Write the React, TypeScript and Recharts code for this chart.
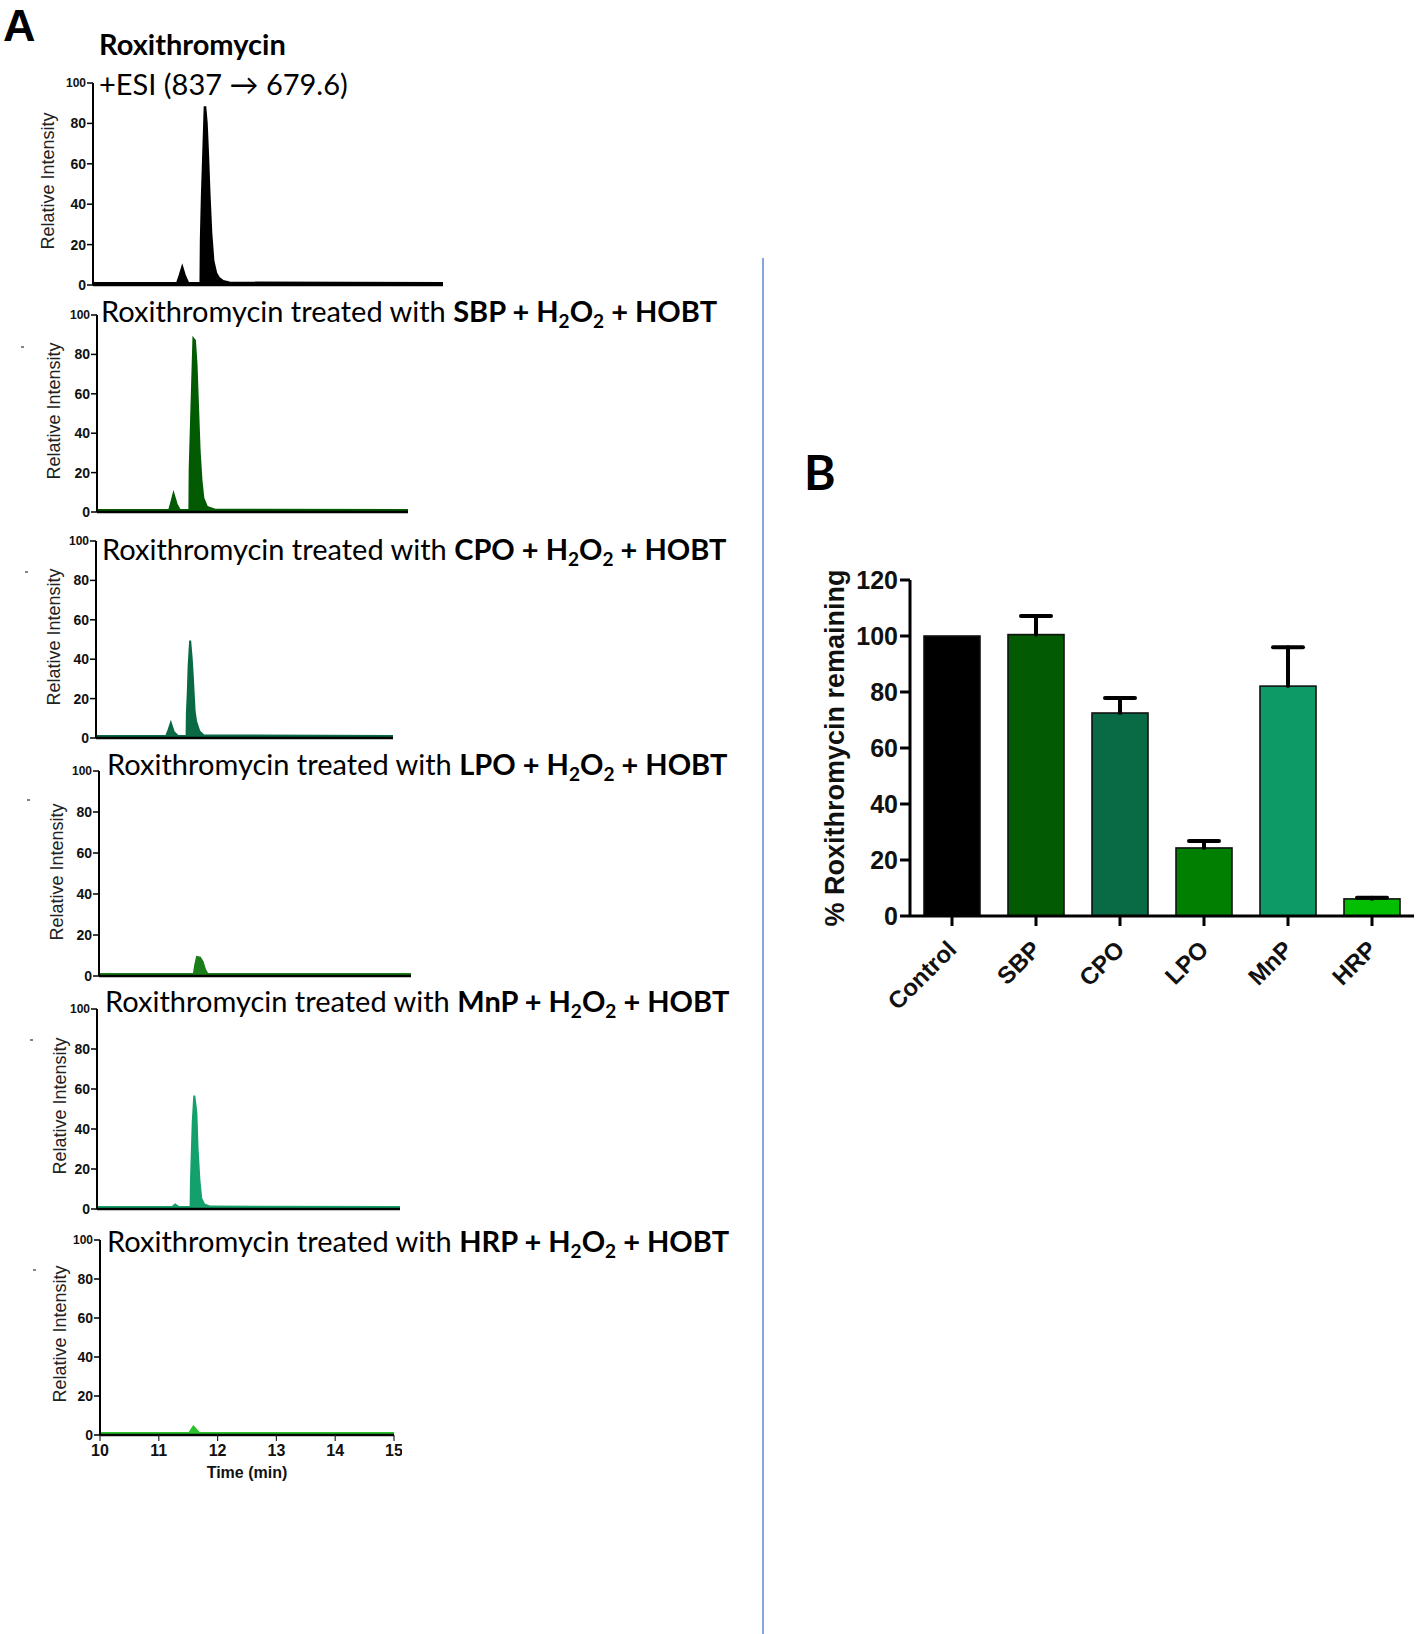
import React from 'react';
import { ComposedChart, Area, XAxis, YAxis, BarChart, Bar, Cell } from 'recharts';

// ---------- Panel A: chromatogram data ----------
const timeTicks = [10, 11, 12, 13, 14, 15];
const intensityTicks = [0, 20, 40, 60, 80, 100];

const controlTimes = [10, 11.2, 11.24, 11.275, 11.31, 11.36, 11.535, 11.54, 11.555, 11.575, 11.595, 11.605, 11.625, 11.645, 11.665, 11.69, 11.72, 11.76, 11.8, 11.86, 11.95, 15];
const controlIntensity = [1, 1, 5, 9, 5, 1, 1, 22, 44, 66, 88, 88, 80, 64, 45, 26, 12, 6, 3.5, 2, 1.2, 1];

const sbpTimes = [10, 11.16, 11.195, 11.23, 11.28, 11.33, 11.485, 11.49, 11.51, 11.53, 11.55, 11.575, 11.6, 11.625, 11.65, 11.68, 11.71, 11.77, 11.9, 15];
const sbpIntensity = [1, 1, 5, 9.3, 4, 1, 1, 22, 44, 66, 88, 87, 75, 53, 31, 16, 7, 2.5, 1.2, 1];

const cpoTimes = [10, 11.18, 11.22, 11.26, 11.31, 11.38, 11.525, 11.53, 11.545, 11.56, 11.585, 11.61, 11.63, 11.66, 11.685, 11.74, 11.81, 15];
const cpoIntensity = [1, 1, 4, 7.6, 3, 1, 1, 12.7, 23, 37, 49.5, 40.7, 31, 13.6, 8.5, 3.4, 1.4, 1];

const lpoTimes = [10, 11.52, 11.54, 11.57, 11.62, 11.66, 11.7, 11.74, 15];
const lpoIntensity = [1, 1, 5, 9.3, 9, 7, 3, 1, 1];

const mnpTimes = [10, 11.24, 11.29, 11.35, 11.545, 11.55, 11.565, 11.58, 11.605, 11.625, 11.64, 11.66, 11.69, 11.72, 11.77, 11.87, 15];
const mnpIntensity = [1, 1, 2.3, 1, 1, 13.7, 28.7, 43.7, 56.7, 52, 47.8, 30, 14.5, 5.3, 2.3, 1.2, 1];

const hrpTimes = [10, 11.52, 11.56, 11.59, 11.63, 11.69, 15];
const hrpIntensity = [1, 1, 3, 4.3, 3, 1, 1];

// ---------- Panel B: bar data ----------
const enzymes = ['Control', 'SBP', 'CPO', 'LPO', 'MnP', 'HRP'];
const remainingMean = [100, 100.5, 72.5, 24.3, 82.1, 6.1];
const remainingErr = [0, 6.6, 5.4, 2.5, 13.9, 0.4];
const percentTicks = [0, 20, 40, 60, 80, 100, 120];

// ---------- styles / layout ----------
const enzymeColors = ['#000000', '#025a02', '#086b46', '#017f01', '#0e9a67', '#03be03'];
const ARIAL = '"Liberation Sans", Arial, sans-serif';
const TITLE_FONT = 'Lato, "Open Sans", sans-serif';

const panels = [
  { times: controlTimes, values: controlIntensity, color: '#000000', box: { L: 93, R: 443, T: 83, B: 285 }, xTicks: false, timeAxis: false },
  { times: sbpTimes, values: sbpIntensity, color: '#025a02', box: { L: 97, R: 408, T: 315, B: 512 }, xTicks: true, timeAxis: false },
  { times: cpoTimes, values: cpoIntensity, color: '#0a6a45', box: { L: 96, R: 393, T: 541, B: 738 }, xTicks: true, timeAxis: false },
  { times: lpoTimes, values: lpoIntensity, color: '#1a7d1a', box: { L: 99, R: 411, T: 771, B: 976 }, xTicks: true, timeAxis: false },
  { times: mnpTimes, values: mnpIntensity, color: '#14a06c', box: { L: 97, R: 400, T: 1009, B: 1209 }, xTicks: true, timeAxis: false },
  { times: hrpTimes, values: hrpIntensity, color: '#2cc22c', box: { L: 100, R: 394, T: 1240, B: 1435 }, xTicks: true, timeAxis: true },
];

const IntensityTick = (props: any) => {
  const { x, y, payload } = props;
  const top = payload.value === 100;
  return (
    <text x={x} y={y + (top ? 4 : 5)} textAnchor="end" fontFamily={ARIAL} fontWeight="bold" fontSize={top ? 12 : 14} fill="#111">
      {payload.value}
    </text>
  );
};

const TimeTick = (props: any) => {
  const { x, y, payload } = props;
  return (
    <text x={x} y={y + 13} textAnchor="middle" fontFamily={ARIAL} fontWeight="bold" fontSize={16} fill="#111">
      {payload.value}
    </text>
  );
};

function Chromatogram({ times, values, color, box, xTicks, timeAxis }: any) {
  const { L, R, T, B } = box;
  const YW = 60, PT = 14, PR = 8;
  const XH = timeAxis ? 40 : 12;
  const data = times.map((t: number, i: number) => ({ t, v: values[i] }));
  return (
    <div style={{ position: 'absolute', left: L - YW, top: T - PT }}>
      <ComposedChart width={R - L + YW + PR} height={B - T + PT + XH} data={data} margin={{ top: PT, right: PR, bottom: 0, left: 0 }}>
        <XAxis
          type="number"
          dataKey="t"
          domain={[10, 15]}
          ticks={timeTicks}
          interval={0}
          height={XH}
          axisLine={{ stroke: '#000', strokeWidth: 2.5 }}
          tickLine={xTicks ? { stroke: '#222', strokeWidth: 1.2 } : false}
          tickSize={timeAxis ? 6 : 4}
          tickMargin={2}
          tick={timeAxis ? <TimeTick /> : false}
        />
        <YAxis
          type="number"
          domain={[0, 100]}
          ticks={intensityTicks}
          interval={0}
          width={YW}
          tickSize={6}
          tickMargin={1}
          axisLine={{ stroke: '#000', strokeWidth: 2 }}
          tickLine={{ stroke: '#000', strokeWidth: 1.5 }}
          tick={<IntensityTick />}
        />
        <Area type="linear" dataKey="v" stroke={color} strokeWidth={2} fill={color} fillOpacity={1} isAnimationActive={false} dot={false} activeDot={false} />
      </ComposedChart>
    </div>
  );
}

const PercentTick = (props: any) => {
  const { x, y, payload } = props;
  return (
    <text x={x} y={y + 9} textAnchor="end" fontFamily={ARIAL} fontWeight="bold" fontSize={25} fill="#111">
      {payload.value}
    </text>
  );
};

const EnzymeTick = (props: any) => {
  const { x, y, payload } = props;
  return (
    <text transform={`translate(${x + 6},${y + 23}) rotate(-45)`} textAnchor="end" fontFamily={ARIAL} fontWeight="bold" fontSize={24} fill="#111">
      {payload.value}
    </text>
  );
};

const BarWithError = (props: any) => {
  const { x, y, width, height, fill, index } = props;
  const val = remainingMean[index];
  const err = remainingErr[index];
  const perUnit = val ? height / val : 0;
  const errPx = err * perUnit;
  const cx = x + width / 2;
  return (
    <g>
      <rect x={x} y={y} width={width} height={height} fill={fill} stroke="#111" strokeWidth={1.6} />
      {err > 0 && (
        <g stroke="#000" strokeWidth={4} strokeLinecap="round">
          <line x1={cx} y1={y} x2={cx} y2={y - errPx} />
          <line x1={cx - 15} y1={y - errPx} x2={cx + 15} y2={y - errPx} />
        </g>
      )}
    </g>
  );
};

function RemainingChart() {
  const data = enzymes.map((name, i) => ({ name, value: remainingMean[i] }));
  return (
    <div style={{ position: 'absolute', left: 780, top: 560 }}>
      <BarChart width={638} height={476} data={data} margin={{ top: 20, right: 4, bottom: 0, left: 0 }}>
        <XAxis dataKey="name" height={120} interval={0} tickSize={10} tickMargin={2}
          axisLine={{ stroke: '#000', strokeWidth: 3 }} tickLine={{ stroke: '#000', strokeWidth: 3 }} tick={<EnzymeTick />} />
        <YAxis type="number" domain={[0, 120]} ticks={percentTicks} width={130} interval={0} tickSize={10} tickMargin={2}
          axisLine={{ stroke: '#000', strokeWidth: 3 }} tickLine={{ stroke: '#000', strokeWidth: 3 }} tick={<PercentTick />} />
        <Bar dataKey="value" barSize={56} isAnimationActive={false} shape={<BarWithError />}>
          {data.map((d, i) => <Cell key={d.name} fill={enzymeColors[i]} />)}
        </Bar>
      </BarChart>
    </div>
  );
}

const titleEnzymes = ['SBP', 'CPO', 'LPO', 'MnP', 'HRP'];
const titlePos = [
  { x: 101, y: 322 },
  { x: 102, y: 560 },
  { x: 107, y: 775 },
  { x: 105, y: 1012 },
  { x: 107, y: 1252 },
];
const riLabelPos = [
  { x: 48, y: 181 },
  { x: 54, y: 411 },
  { x: 54, y: 637 },
  { x: 57, y: 872 },
  { x: 60, y: 1106 },
  { x: 60, y: 1334 },
];
const dashPos = [
  { x: 23, y: 347 },
  { x: 27, y: 572 },
  { x: 29, y: 800 },
  { x: 32, y: 1040 },
  { x: 35, y: 1270 },
];

function Overlay() {
  return (
    <svg width={1418} height={1634} style={{ position: 'absolute', left: 0, top: 0, pointerEvents: 'none' }}>
      <text x={3} y={41} fontFamily={ARIAL} fontWeight="bold" fontSize={45} fill="#000">A</text>
      <text x={804} y={490} fontFamily={TITLE_FONT} fontWeight="bold" fontSize={48} fill="#000">B</text>
      <text x={99} y={55} fontFamily={TITLE_FONT} fontWeight="bold" fontSize={29} fill="#000">Roxithromycin</text>
      <text x={99} y={95} fontFamily={TITLE_FONT} fontSize={29} fill="#000">{'+ESI (837 \u2192 679.6)'}</text>
      {titleEnzymes.map((e, i) => (
        <text key={e} x={titlePos[i].x} y={titlePos[i].y} fontFamily={TITLE_FONT} fontSize={29} fill="#000">
          <tspan>{'Roxithromycin treated with '}</tspan>
          <tspan fontWeight="bold">{e + ' + H'}</tspan>
          <tspan fontWeight="bold" fontSize={19} dy={6}>2</tspan>
          <tspan fontWeight="bold" dy={-6}>O</tspan>
          <tspan fontWeight="bold" fontSize={19} dy={6}>2</tspan>
          <tspan fontWeight="bold" dy={-6}>{' + HOBT'}</tspan>
        </text>
      ))}
      {riLabelPos.map((p, i) => (
        <text key={i} transform={`translate(${p.x},${p.y}) rotate(-90)`} textAnchor="middle" dominantBaseline="central"
          fontFamily={ARIAL} fontSize={18} fill="#222">Relative Intensity</text>
      ))}
      {dashPos.map((p, i) => (
        <line key={i} x1={p.x - 2} y1={p.y} x2={p.x + 1} y2={p.y} stroke="#333" strokeWidth={1.2} />
      ))}
      <text x={247} y={1478} textAnchor="middle" fontFamily={ARIAL} fontWeight="bold" fontSize={16} fill="#111">Time (min)</text>
      <text transform="translate(835,748) rotate(-90)" textAnchor="middle" dominantBaseline="central"
        fontFamily={ARIAL} fontWeight="bold" fontSize={27} fill="#111">% Roxithromycin remaining</text>
      <line x1={763} y1={258} x2={763} y2={1634} stroke="#5b8bd3" strokeWidth={1.5} />
    </svg>
  );
}

export default function App() {
  return (
    <div style={{ position: 'absolute', left: 0, top: 0, width: 1418, height: 1634, background: '#fff', overflow: 'hidden' }}>
      {panels.map((p, i) => (
        <Chromatogram key={i} times={p.times} values={p.values} color={p.color} box={p.box} xTicks={p.xTicks} timeAxis={p.timeAxis} />
      ))}
      <RemainingChart />
      <Overlay />
    </div>
  );
}
